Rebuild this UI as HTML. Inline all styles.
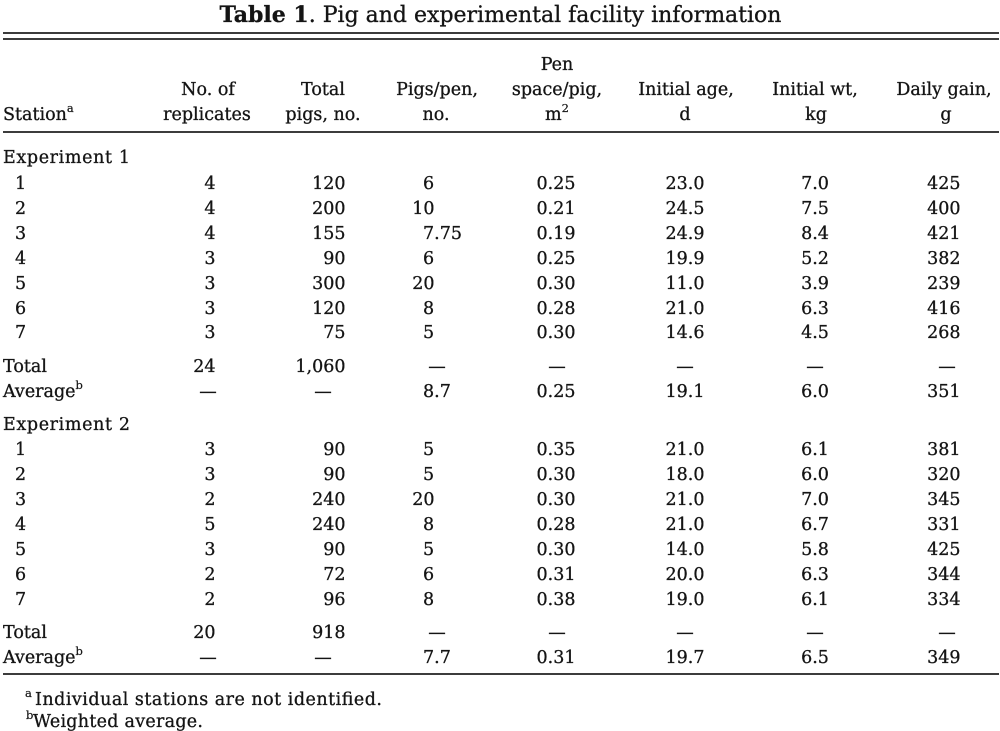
<!DOCTYPE html>
<html>
<head>
<meta charset="utf-8">
<style>
html,body{margin:0;padding:0;background:#fff;}
svg{display:block;}
text{font-family:"DejaVu Serif","Liberation Serif",serif;fill:#141414;stroke:#141414;stroke-width:0.3px;font-size:17.5px;}
.t{font-size:22px;}
.m{text-anchor:middle;}
.e{text-anchor:end;}
.sup{font-size:11.5px;stroke-width:0.2px;}
</style>
</head>
<body>
<svg width="1000" height="731" viewBox="0 0 1000 731" xmlns="http://www.w3.org/2000/svg">
<text class="t m" x="500.5" y="22"><tspan font-weight="bold">Table 1</tspan>. Pig and experimental facility information</text>
<rect x="3" y="32" width="996" height="2" fill="#3c3c3c"/>
<rect x="3" y="38" width="996" height="2" fill="#3c3c3c"/>
<!-- header -->
<text x="3" y="120">Station<tspan class="sup" dy="-8">a</tspan></text>
<text class="m" x="208" y="95">No. of</text>
<text class="m" x="207" y="120">replicates</text>
<text class="m" x="323" y="95">Total</text>
<text class="m" x="323" y="120">pigs, no.</text>
<text class="m" x="437" y="95">Pigs/pen,</text>
<text class="m" x="436" y="120">no.</text>
<text class="m" x="557" y="70">Pen</text>
<text class="m" x="557" y="95">space/pig,</text>
<text class="m" x="557" y="120">m<tspan class="sup" dy="-8">2</tspan></text>
<text class="m" x="686" y="95">Initial age,</text>
<text class="m" x="685" y="120">d</text>
<text class="m" x="815" y="95">Initial wt,</text>
<text class="m" x="816" y="120">kg</text>
<text class="m" x="944" y="95">Daily gain,</text>
<text class="m" x="946" y="120">g</text>
<rect x="3" y="131" width="996" height="2" fill="#3c3c3c"/>

<!-- Experiment 1 -->
<text x="3" y="163" textLength="127" lengthAdjust="spacing">Experiment 1</text>
<g>
<text x="15" y="189">1</text><text class="e" x="215.5" y="189">4</text><text class="e" x="345.5" y="189">120</text><text x="423" y="189">6</text><text class="m" x="556" y="189">0.25</text><text class="m" x="685" y="189">23.0</text><text class="m" x="815" y="189">7.0</text><text class="e" x="960.5" y="189">425</text>
<text x="15" y="214">2</text><text class="e" x="215.5" y="214">4</text><text class="e" x="345.5" y="214">200</text><text class="e" x="434.5" y="214">10</text><text class="m" x="556" y="214">0.21</text><text class="m" x="685" y="214">24.5</text><text class="m" x="815" y="214">7.5</text><text class="e" x="960.5" y="214">400</text>
<text x="15" y="239">3</text><text class="e" x="215.5" y="239">4</text><text class="e" x="345.5" y="239">155</text><text x="423" y="239">7.75</text><text class="m" x="556" y="239">0.19</text><text class="m" x="685" y="239">24.9</text><text class="m" x="815" y="239">8.4</text><text class="e" x="960.5" y="239">421</text>
<text x="15" y="264">4</text><text class="e" x="215.5" y="264">3</text><text class="e" x="345.5" y="264">90</text><text x="423" y="264">6</text><text class="m" x="556" y="264">0.25</text><text class="m" x="685" y="264">19.9</text><text class="m" x="815" y="264">5.2</text><text class="e" x="960.5" y="264">382</text>
<text x="15" y="289">5</text><text class="e" x="215.5" y="289">3</text><text class="e" x="345.5" y="289">300</text><text class="e" x="434.5" y="289">20</text><text class="m" x="556" y="289">0.30</text><text class="m" x="685" y="289">11.0</text><text class="m" x="815" y="289">3.9</text><text class="e" x="960.5" y="289">239</text>
<text x="15" y="314">6</text><text class="e" x="215.5" y="314">3</text><text class="e" x="345.5" y="314">120</text><text x="423" y="314">8</text><text class="m" x="556" y="314">0.28</text><text class="m" x="685" y="314">21.0</text><text class="m" x="815" y="314">6.3</text><text class="e" x="960.5" y="314">416</text>
<text x="15" y="338">7</text><text class="e" x="215.5" y="338">3</text><text class="e" x="345.5" y="338">75</text><text x="423" y="338">5</text><text class="m" x="556" y="338">0.30</text><text class="m" x="685" y="338">14.6</text><text class="m" x="815" y="338">4.5</text><text class="e" x="960.5" y="338">268</text>
</g>
<text x="3" y="372">Total</text><text class="e" x="215.5" y="372">24</text><text class="e" x="345.5" y="372">1,060</text><text class="m" x="437" y="372">—</text><text class="m" x="557" y="372">—</text><text class="m" x="685" y="372">—</text><text class="m" x="815" y="372">—</text><text class="m" x="947" y="372">—</text>
<text x="3" y="397">Average<tspan class="sup" dy="-8">b</tspan></text><text class="m" x="208" y="397">—</text><text class="m" x="323" y="397">—</text><text x="423" y="397">8.7</text><text class="m" x="556" y="397">0.25</text><text class="m" x="685" y="397">19.1</text><text class="m" x="815" y="397">6.0</text><text class="e" x="960.5" y="397">351</text>

<!-- Experiment 2 -->
<text x="3" y="430" textLength="127" lengthAdjust="spacing">Experiment 2</text>
<g>
<text x="15" y="455">1</text><text class="e" x="215.5" y="455">3</text><text class="e" x="345.5" y="455">90</text><text x="423" y="455">5</text><text class="m" x="556" y="455">0.35</text><text class="m" x="685" y="455">21.0</text><text class="m" x="815" y="455">6.1</text><text class="e" x="960.5" y="455">381</text>
<text x="15" y="480">2</text><text class="e" x="215.5" y="480">3</text><text class="e" x="345.5" y="480">90</text><text x="423" y="480">5</text><text class="m" x="556" y="480">0.30</text><text class="m" x="685" y="480">18.0</text><text class="m" x="815" y="480">6.0</text><text class="e" x="960.5" y="480">320</text>
<text x="15" y="505">3</text><text class="e" x="215.5" y="505">2</text><text class="e" x="345.5" y="505">240</text><text class="e" x="434.5" y="505">20</text><text class="m" x="556" y="505">0.30</text><text class="m" x="685" y="505">21.0</text><text class="m" x="815" y="505">7.0</text><text class="e" x="960.5" y="505">345</text>
<text x="15" y="530">4</text><text class="e" x="215.5" y="530">5</text><text class="e" x="345.5" y="530">240</text><text x="423" y="530">8</text><text class="m" x="556" y="530">0.28</text><text class="m" x="685" y="530">21.0</text><text class="m" x="815" y="530">6.7</text><text class="e" x="960.5" y="530">331</text>
<text x="15" y="555">5</text><text class="e" x="215.5" y="555">3</text><text class="e" x="345.5" y="555">90</text><text x="423" y="555">5</text><text class="m" x="556" y="555">0.30</text><text class="m" x="685" y="555">14.0</text><text class="m" x="815" y="555">5.8</text><text class="e" x="960.5" y="555">425</text>
<text x="15" y="580">6</text><text class="e" x="215.5" y="580">2</text><text class="e" x="345.5" y="580">72</text><text x="423" y="580">6</text><text class="m" x="556" y="580">0.31</text><text class="m" x="685" y="580">20.0</text><text class="m" x="815" y="580">6.3</text><text class="e" x="960.5" y="580">344</text>
<text x="15" y="605">7</text><text class="e" x="215.5" y="605">2</text><text class="e" x="345.5" y="605">96</text><text x="423" y="605">8</text><text class="m" x="556" y="605">0.38</text><text class="m" x="685" y="605">19.0</text><text class="m" x="815" y="605">6.1</text><text class="e" x="960.5" y="605">334</text>
</g>
<text x="3" y="638">Total</text><text class="e" x="215.5" y="638">20</text><text class="e" x="345.5" y="638">918</text><text class="m" x="437" y="638">—</text><text class="m" x="557" y="638">—</text><text class="m" x="685" y="638">—</text><text class="m" x="815" y="638">—</text><text class="m" x="947" y="638">—</text>
<text x="3" y="663">Average<tspan class="sup" dy="-8">b</tspan></text><text class="m" x="208" y="663">—</text><text class="m" x="323" y="663">—</text><text x="423" y="663">7.7</text><text class="m" x="556" y="663">0.31</text><text class="m" x="685" y="663">19.7</text><text class="m" x="815" y="663">6.5</text><text class="e" x="960.5" y="663">349</text>

<rect x="3" y="673" width="996" height="2" fill="#3c3c3c"/>

<!-- footnotes -->
<text class="sup" x="25" y="697">a</text><text x="35" y="705" textLength="347" lengthAdjust="spacing">Individual stations are not identified.</text>
<text class="sup" x="26" y="719">b</text><text x="33" y="727" textLength="170" lengthAdjust="spacing">Weighted average.</text>
</svg>
</body>
</html>
